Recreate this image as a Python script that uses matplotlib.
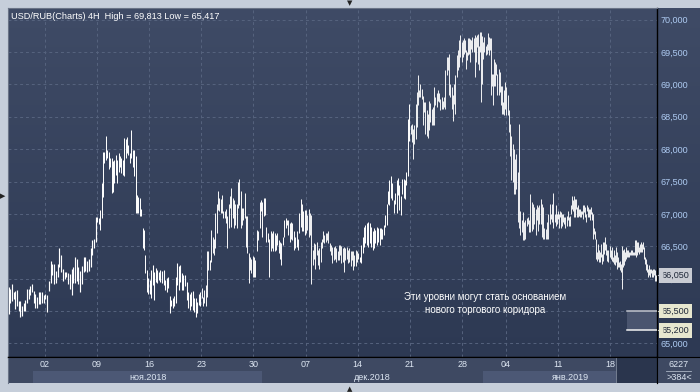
import numpy as np
import matplotlib
matplotlib.use("Agg")
import matplotlib.pyplot as plt
from matplotlib.colors import LinearSegmentedColormap
from matplotlib.patches import Rectangle
from matplotlib.transforms import blended_transform_factory

plt.rcParams['font.family'] = ['Liberation Sans', 'DejaVu Sans']

# friday labels on the time axis, bars per session between them
week_labels = ['02', '09', '16', '23', '30', '07', '14', '21', '28', '04', '11', '18']
session_bars = [21, 30, 30, 30, 30, 30, 30, 30, 30, 25, 30, 30, 27]
bars_read = [22, 30, 37, 34, 39, 38, 40, 37, 42, 40, 41, 51, 46]
month_edges = [14.5, 146, 273, 373]
month_labels = ['ноя.2018', 'дек.2018', 'янв.2019']
month_shaded = [True, False, True]

high = [
    65.87, 65.84, 65.91, 65.79, 65.81, 65.83, 65.66, 65.66, 65.58, 65.63, 65.67, 65.84, 65.84, 65.89, 65.91,
    65.81, 65.76, 65.72, 65.79, 65.79, 65.80, 65.74,
    65.76, 65.75, 65.97, 66.28, 66.23, 66.23, 66.12, 66.23, 66.47, 66.36, 66.15, 66.10, 66.11, 66.08, 66.07,
    66.15, 66.18, 66.33, 66.31, 66.18, 66.12, 66.20, 66.34, 66.34, 66.28, 66.31, 66.47, 66.59, 66.62, 66.95,
    66.95, 66.93, 67.06, 67.47, 67.96, 67.96, 68.21, 67.99, 67.96, 67.86, 67.86, 67.81, 67.83, 67.91, 67.83,
    67.94, 67.89, 67.86, 67.83, 68.17, 68.15, 68.19, 68.07, 67.94, 68.29, 67.99, 67.99, 67.89, 67.29, 67.26,
    67.24, 67.07, 66.78, 66.75, 66.37, 66.13, 66.01,
    65.98, 66.13, 66.21, 66.11, 66.16, 66.13, 66.11, 66.13, 66.12, 66.13, 65.98, 66.01, 66.03, 65.73, 65.67,
    65.70, 65.73, 66.03, 66.24, 66.19, 66.21, 66.08, 66.06, 66.06, 65.95, 65.80, 65.77, 65.80, 65.81, 65.70,
    65.70, 65.64, 65.77, 65.80,
    65.85, 65.72, 65.82, 65.90, 66.42, 66.42, 66.29, 66.75, 66.65, 66.62, 67.01, 67.16, 67.36, 67.24, 67.23,
    67.29, 67.04, 67.04, 67.07, 66.96, 67.16, 67.27, 67.40, 67.24, 67.22, 67.16, 67.16, 67.50, 67.54, 67.35,
    67.09, 67.09, 67.33, 66.96, 66.96, 66.39, 66.34, 66.31, 66.35,
    66.34, 66.29, 66.75, 66.73, 67.19, 67.22, 67.19, 67.24, 67.24, 66.80, 66.70, 66.62, 66.73, 66.70, 66.73,
    66.70, 66.68, 66.70, 66.60, 66.57, 66.55, 66.65, 66.91, 66.93, 66.91, 66.91, 66.86, 66.88, 66.86, 66.73,
    66.65, 66.73, 66.62, 67.01, 67.23, 67.16, 67.04, 67.06,
    67.06, 66.98, 67.07, 67.02, 66.98, 66.44, 66.55, 66.54, 66.56, 66.44, 66.47, 66.57, 66.62, 66.73, 66.68,
    66.71, 66.71, 66.73, 66.55, 66.52, 66.49, 66.49, 66.51, 66.47, 66.42, 66.52, 66.52, 66.51, 66.47, 66.49,
    66.48, 66.49, 66.44, 66.47, 66.42, 66.42, 66.42, 66.37, 66.44, 66.42,
    66.39, 66.34, 66.52, 66.65, 66.80, 66.83, 66.86, 66.87, 66.86, 66.80, 66.73, 66.78, 66.75, 66.80, 66.78,
    66.78, 66.78, 66.76, 66.83, 66.98, 67.16, 67.35, 67.53, 67.58, 67.47, 67.22, 67.32, 67.53, 67.55, 67.45,
    67.27, 67.54, 67.54, 67.53, 67.65, 68.47, 68.70,
    68.37, 68.39, 68.31, 68.37, 68.69, 68.89, 69.14, 68.91, 69.01, 68.93, 68.82, 68.73, 68.73, 68.60, 68.55,
    68.74, 68.72, 68.62, 68.65, 68.96, 68.80, 68.86, 68.91, 68.86, 68.78, 68.80, 68.75, 68.80, 69.22, 69.42,
    69.42, 69.47, 69.01, 68.96, 68.83, 69.01, 69.15, 69.46, 69.53, 69.68, 69.76, 69.66,
    69.68, 69.72, 69.68, 69.53, 69.50, 69.71, 69.72, 69.70, 69.68, 69.73, 69.71, 69.76, 69.73, 69.77, 69.78,
    69.60, 69.81, 69.81, 69.75, 69.65, 69.73, 69.60, 69.63, 69.80, 69.73, 69.72, 69.71, 69.16, 69.16, 69.40,
    69.35, 69.32, 69.16, 69.24, 69.19, 68.98, 68.98, 68.73, 68.91, 69.04,
    68.96, 68.83, 68.60, 68.39, 68.21, 68.08, 68.01, 67.85, 67.93, 67.64, 68.39, 67.05, 66.90, 67.03, 66.87,
    66.90, 66.93, 66.95, 66.90, 67.30, 67.18, 67.15, 67.10, 67.08, 67.13, 67.11, 67.13, 67.23, 67.15, 67.10,
    66.79, 66.77, 66.87, 67.00, 67.15, 67.00, 67.15, 67.32, 67.00, 67.13, 67.00,
    67.05, 67.00, 67.05, 67.03, 67.00, 67.00, 66.95, 66.95, 66.97, 67.05, 66.95, 66.97, 67.13, 67.28, 67.21,
    67.28, 67.23, 67.23, 67.10, 67.13, 67.08, 67.08, 67.05, 67.05, 67.14, 67.13, 67.10, 67.00, 67.13, 67.10,
    67.08, 67.08, 67.10, 67.03, 67.00, 66.79, 66.74, 66.62, 66.41, 66.54, 66.44, 66.41, 66.54, 66.38, 66.56,
    66.56, 66.64, 66.54, 66.44, 66.44, 66.51,
    66.44, 66.49, 66.33, 66.44, 66.36, 66.49, 66.41, 66.33, 66.26, 66.28, 66.23, 66.51, 66.44, 66.46, 66.41,
    66.49, 66.44, 66.44, 66.41, 66.41, 66.44, 66.44, 66.41, 66.41, 66.60, 66.59, 66.56, 66.56, 66.49, 66.54,
    66.56, 66.54, 66.56, 66.49, 66.33, 66.31, 66.23, 66.15, 66.21, 66.15, 66.15, 66.13, 66.15, 66.15, 66.13,
    66.05,
]

low = [
    65.46, 65.63, 65.66, 65.68, 65.53, 65.58, 65.50, 65.41, 65.42, 65.50, 65.50, 65.63, 65.68, 65.74, 65.79,
    65.63, 65.55, 65.54, 65.61, 65.61, 65.62, 65.63,
    65.68, 65.49, 65.81, 65.94, 66.05, 65.92, 65.93, 66.02, 66.18, 66.10, 65.97, 65.99, 66.02, 65.92, 65.84,
    65.74, 65.94, 65.94, 65.97, 65.92, 65.79, 65.92, 66.10, 66.12, 66.11, 66.12, 66.18, 66.36, 66.47, 66.56,
    66.88, 66.85, 66.75, 66.93, 67.26, 67.78, 67.83, 67.86, 67.70, 67.73, 67.32, 67.34, 67.47, 67.60, 67.47,
    67.65, 67.73, 67.63, 67.60, 67.58, 67.86, 67.94, 67.91, 67.78, 67.86, 67.73, 67.58, 67.01, 67.01, 67.01,
    66.96, 66.96, 66.47, 66.44, 66.08, 65.80, 65.77,
    65.77, 65.70, 65.90, 65.67, 65.95, 65.93, 65.98, 65.95, 65.93, 65.90, 65.82, 65.80, 65.85, 65.47, 65.57,
    65.54, 65.57, 65.62, 65.90, 65.82, 65.95, 65.82, 65.82, 65.88, 65.67, 65.54, 65.52, 65.57, 65.52, 65.49,
    65.41, 65.47, 65.59, 65.57,
    65.70, 65.57, 65.62, 65.57, 65.72, 66.13, 66.13, 66.26, 66.39, 66.37, 66.47, 66.70, 67.06, 67.04, 67.01,
    67.01, 66.93, 66.93, 66.86, 66.47, 66.78, 67.09, 66.80, 66.93, 66.78, 66.83, 66.78, 67.09, 67.14, 66.78,
    66.83, 66.91, 66.93, 66.49, 66.39, 65.93, 66.13, 66.08, 66.03,
    66.03, 66.03, 66.42, 66.60, 66.78, 67.04, 66.65, 66.96, 66.98, 66.57, 66.57, 66.03, 66.42, 66.47, 66.42,
    66.42, 66.44, 66.52, 66.39, 66.31, 66.21, 66.52, 66.65, 66.78, 66.83, 66.68, 66.57, 66.62, 66.60, 66.44,
    66.47, 66.49, 66.44, 66.70, 66.80, 66.73, 66.73, 66.68,
    66.70, 66.75, 66.65, 66.68, 65.92, 66.21, 66.31, 66.15, 66.37, 66.21, 66.15, 66.26, 66.47, 66.57, 66.55,
    66.57, 66.60, 66.55, 66.42, 66.37, 66.24, 66.29, 66.31, 66.26, 66.29, 66.29, 66.37, 66.24, 66.26, 66.11,
    66.29, 66.31, 66.24, 66.26, 66.19, 66.29, 66.13, 66.19, 66.19, 66.26,
    66.31, 66.26, 66.24, 66.39, 66.49, 66.55, 66.52, 66.49, 66.55, 66.49, 66.44, 66.47, 66.55, 66.52, 66.57,
    66.52, 66.62, 66.62, 66.68, 66.80, 66.83, 67.16, 67.14, 67.24, 67.22, 67.01, 67.16, 67.01, 67.29, 67.06,
    66.98, 67.31, 67.24, 67.23, 67.44, 67.58, 68.13,
    68.24, 68.11, 67.85, 68.08, 68.16, 68.34, 68.68, 68.80, 68.80, 68.78, 68.37, 68.57, 68.24, 68.21, 68.17,
    68.29, 68.42, 68.37, 68.37, 68.37, 68.68, 68.65, 68.75, 68.73, 68.60, 68.62, 68.62, 68.65, 68.62, 69.14,
    69.22, 68.83, 68.80, 68.62, 68.44, 68.70, 68.55, 69.11, 69.22, 69.27, 69.42, 69.35,
    69.42, 69.47, 69.50, 69.24, 69.37, 69.45, 69.47, 69.35, 69.55, 69.50, 69.50, 69.11, 69.35, 69.58, 69.32,
    69.22, 69.50, 68.73, 69.01, 69.40, 69.50, 69.45, 69.47, 69.53, 69.45, 69.53, 68.83, 68.98, 68.68, 68.98,
    68.98, 69.14, 68.83, 68.83, 68.88, 68.68, 68.55, 68.55, 68.52, 68.62,
    68.52, 68.52, 68.26, 67.90, 67.52, 67.49, 67.31, 67.31, 67.39, 66.87, 66.79, 66.67, 66.72, 66.59, 66.59,
    66.61, 66.82, 66.85, 66.72, 66.72, 66.73, 66.77, 66.85, 66.67, 66.90, 66.74, 66.85, 66.85, 66.65, 66.62,
    66.62, 66.62, 66.62, 66.62, 66.85, 66.92, 66.87, 66.79, 66.87, 66.82, 66.85,
    66.92, 66.79, 66.95, 66.79, 66.82, 66.87, 66.85, 66.79, 66.82, 66.90, 66.82, 66.82, 67.00, 67.08, 67.05,
    66.95, 66.95, 67.08, 66.95, 66.95, 66.97, 66.95, 66.95, 67.00, 66.92, 67.03, 66.95, 66.87, 67.05, 66.95,
    66.95, 66.90, 67.00, 66.90, 66.62, 66.69, 66.62, 66.31, 66.28, 66.31, 66.26, 66.26, 66.33, 66.23, 66.28,
    66.38, 66.44, 66.36, 66.28, 66.26, 66.33,
    66.31, 66.28, 66.26, 66.23, 66.21, 66.26, 66.15, 66.18, 66.18, 66.14, 66.10, 65.84, 66.18, 66.21, 66.28,
    66.31, 66.33, 66.33, 66.33, 66.36, 66.36, 66.36, 66.36, 66.36, 66.36, 66.33, 66.36, 66.41, 66.38, 66.41,
    66.41, 66.41, 66.46, 66.31, 66.23, 66.13, 66.10, 66.03, 66.05, 66.03, 66.08, 66.03, 66.03, 66.05, 65.97,
    65.97,
]

last_price = 66.050
zone_top, zone_bottom = 65.5, 65.2
note = ['Эти уровни могут стать основанием', 'нового торгового коридора']

W, H = 700, 392
def box(x0, y0, x1, y1):
    return [x0 / W, 1 - y1 / H, (x1 - x0) / W, (y1 - y0) / H]

fig = plt.figure(figsize=(7, 3.92), dpi=100, facecolor='#c6ceda')

# gradient background under chart + price scale
bg = fig.add_axes(box(8, 8, 700, 357))
grad = np.linspace(0, 1, 256).reshape(-1, 1)
cmap = LinearSegmentedColormap.from_list('bg', ['#3f4b66', '#2d3953'])
bg.imshow(grad, aspect='auto', cmap=cmap, extent=[0, 1, 0, 1])
bg.axis('off')

ax = fig.add_axes(box(8, 8, 657, 357))
ax.patch.set_visible(False)
total = sum(session_bars)
ax.set_xlim(0, total)
ax.set_ylim(64.79, 70.18)

starts = np.concatenate([[0], np.cumsum(session_bars)[:-1]])
xs, lws = [], []
px_unit = 649 / total
for s, w, n in zip(starts, session_bars, bars_read):
    xs.append(s + (np.arange(n) + 0.5) * w / n)
    spacing = w / n * px_unit
    lws += [max(0.9, min(1.15, 0.7 * spacing)) * 0.72] * n
x = np.concatenate(xs)

ticks = np.cumsum(session_bars)[:-1]
levels = np.arange(65.0, 70.01, 0.5)
for t in ticks:
    ax.axvline(t, color='#56637e', lw=0.7, ls=(0, (3, 3)), zorder=1)
for v in levels:
    ax.axhline(v, color='#56637e', lw=0.7, ls=(0, (3, 3)), zorder=1)

ax.vlines(x, low, high, colors='white', linewidths=lws, zorder=3)

# support zone
tr = blended_transform_factory(ax.transAxes, ax.transData)
ax.add_patch(Rectangle((0.954, zone_bottom), 0.046, zone_top - zone_bottom, transform=tr,
                       fc='#4a556f', ec='none', zorder=2))
ax.plot([0.954, 1.0], [zone_top, zone_top], color='#c0c4cc', lw=1.1, transform=tr, zorder=4)
ax.plot([0.954, 1.0], [zone_bottom, zone_bottom], color='#f2f2f2', lw=1.1, transform=tr, zorder=4)

ax.text(0.735, 65.718, note[0], transform=tr, ha='center', va='center', color='white', fontsize=7)
ax.text(0.735, 65.517, note[1], transform=tr, ha='center', va='center', color='white', fontsize=7)

ax.text(0.004, 0.989, 'USD/RUB(Charts) 4H  High = 69,813 Low = 65,417', transform=ax.transAxes,
        ha='left', va='top', color='white', fontsize=6.6)

ax.yaxis.tick_right()
ax.set_yticks(levels)
ax.set_yticklabels([f'{v:.3f}'.replace('.', ',') for v in levels])
ax.tick_params(axis='y', length=0, pad=2.5, labelsize=6.5, labelcolor='#aecbf2')
ax.set_xticks([])
for side in ['right', 'bottom']:
    ax.spines[side].set_color('black')
    ax.spines[side].set_linewidth(1.0)
for side in ['top', 'left']:
    ax.spines[side].set_color('#6a7386')
    ax.spines[side].set_linewidth(0.8)

# price tags on the scale
tags = [(last_price, '#c9ccd3'), (zone_top, '#e7e7cf'), (zone_bottom, '#e7e7cf')]
for val, fc in tags:
    ax.text(1.0 + 5 / 649, val, f'{val:.3f}'.replace('.', ','), transform=tr, ha='left', va='center',
            fontsize=6.5, color='#1e2738', clip_on=False, zorder=10,
            bbox=dict(boxstyle='square,pad=0.3', fc=fc, ec='none'))
    ax.plot([1.0 + 2.5 / 649], [val], marker='<', ms=4.5, color=fc, mec='none', transform=tr,
            clip_on=False, zorder=10)

# time axis panel
dax = fig.add_axes(box(8, 357, 657, 383), facecolor='#3e4962')
dax.set_xlim(0, total)
dax.set_ylim(0, 1)
for (a, b), sh in zip(zip(month_edges[:-1], month_edges[1:]), month_shaded):
    if sh:
        dax.add_patch(Rectangle((a, 0), b - a, 0.46, fc='#4c5875', ec='none'))
for (a, b), lab in zip(zip(month_edges[:-1], month_edges[1:]), month_labels):
    dax.text((a + b) / 2, 0.22, lab, ha='center', va='center', fontsize=6.5, color='#dde6f2')
dax.add_patch(Rectangle((349.4, 0), total - 349.4, 1, fc='#2a354d', ec='#7d8799', lw=0.6))
for t, lab in zip(ticks, week_labels):
    dax.text(t, 0.7, lab, ha='center', va='center', fontsize=6.5, color='#dde6f2')
dax.set_xticks([])
dax.set_yticks([])
for side in ['top', 'right']:
    dax.spines[side].set_color('black')
dax.spines['bottom'].set_visible(False)
dax.spines['left'].set_color('#6a7386')

rax = fig.add_axes(box(657, 357, 700, 383), facecolor='#3e4962')
rax.set_xlim(0, 1)
rax.set_ylim(0, 1)
rax.text(0.51, 0.73, '6227', ha='center', va='center', fontsize=6.5, color='#dde6f2')
rax.plot([0.2, 0.8], [0.46, 0.46], color='#aab4c4', lw=0.6)
rax.text(0.51, 0.2, '>384<', ha='center', va='center', fontsize=6.5, color='#dde6f2')
rax.set_xticks([])
rax.set_yticks([])
for side in ['top', 'left']:
    rax.spines[side].set_color('black')
rax.spines['bottom'].set_visible(False)
rax.spines['right'].set_visible(False)

fig.text(2.5 / W, 1 - 196 / H, '▶', fontsize=5, color='#222222', ha='center', va='center', family=['DejaVu Sans'])
fig.text(350 / W, 1 - 3 / H, '▼', fontsize=5, color='#222222', ha='center', va='center', family=['DejaVu Sans'])
fig.text(350 / W, 1 - 389 / H, '▲', fontsize=5, color='#222222', ha='center', va='center', family=['DejaVu Sans'])

fig.savefig('out.png', dpi=100, facecolor=fig.get_facecolor())
